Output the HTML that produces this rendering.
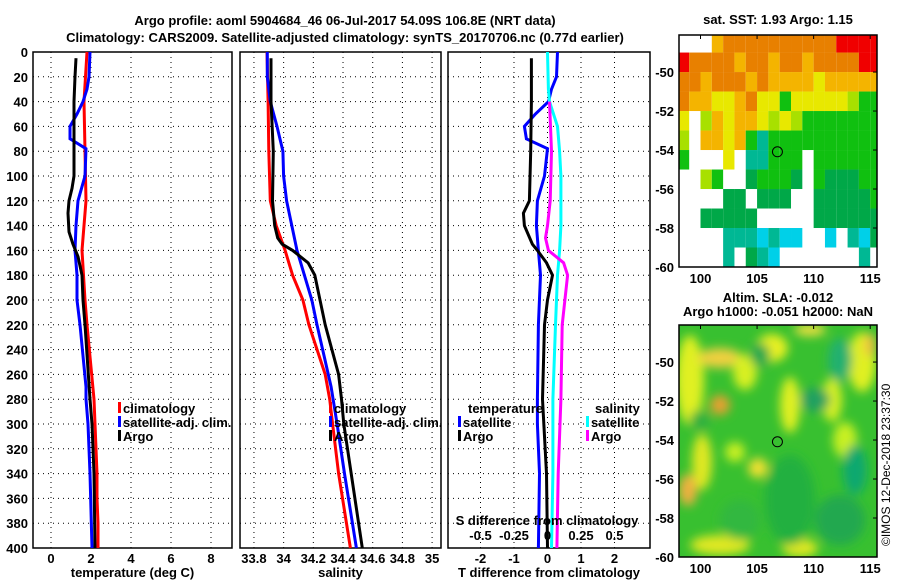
<!DOCTYPE html>
<html><head><meta charset="utf-8"><style>
body{margin:0;background:#fff}
svg{display:block;font-family:"Liberation Sans",sans-serif;font-weight:bold}
text{font-size:13px;fill:#000}
</style></head><body>
<svg id="c" width="900" height="580" viewBox="0 0 900 580">
<text x="345" y="25" text-anchor="middle">Argo profile: aoml 5904684_46 06-Jul-2017 54.09S 106.8E (NRT data)</text>
<text x="345" y="42" text-anchor="middle">Climatology: CARS2009. Satellite-adjusted climatology: synTS_20170706.nc (0.77d earlier)</text>
<g id="g"></g>
</svg>
<script>
// ---- data ----
const depthTicks=[0,20,40,60,80,100,120,140,160,180,200,220,240,260,280,300,320,340,360,380,400];
const tTicks=[0,2,4,6,8];
const sTicks=[33.8,34,34.2,34.4,34.6,34.8,35];
const sTickLabels=["33.8","34","34.2","34.4","34.6","34.8","35"];
const dTicks=[-2,-1,0,1,2];
const dsTicks=[-0.5,-0.25,0,0.25,0.5];
const dsTickLabels=["-0.5","-0.25","0","0.25","0.5"];
const climTdepth=[0,40,80,120,160,200,220,280,300,340,360,380,400];
const climT=[1.8,1.65,1.7,1.75,1.55,1.7,1.8,2.15,2.2,2.3,2.3,2.35,2.35];
const satTdepth=[0,20,30,40,50,60,70,78,100,120,140,160,180,200,220,270,280,300,340,400];
const satT=[1.95,1.9,1.8,1.6,1.3,0.95,0.95,1.75,1.7,1.35,1.25,1.2,1.3,1.3,1.45,1.75,1.75,1.85,1.95,2.05];
const argoTdepth=[5,20,40,100,110,120,130,145,155,165,180,200,220,280,300,340,400];
const argoT=[1.25,1.2,1.15,1.15,1.05,0.9,0.85,0.9,1.1,1.35,1.55,1.6,1.7,1.95,2.05,2.15,2.2];
const climSdepth=[0,40,80,120,140,160,180,200,220,260,280,300,340,400];
const climS=[33.888,33.895,33.9,33.91,33.95,34.01,34.06,34.13,34.17,34.28,34.31,34.33,34.37,34.45];
const satSdepth=[0,20,40,60,80,100,120,140,160,180,200,220,270,300,340,400];
const satS=[33.89,33.89,33.91,33.955,33.995,34.0,34.02,34.055,34.09,34.14,34.19,34.225,34.32,34.36,34.41,34.49];
const argoSdepth=[5,40,80,120,140,150,155,160,170,180,200,220,260,280,300,340,400];
const argoS=[33.915,33.915,33.93,33.925,33.94,33.96,33.99,34.06,34.165,34.21,34.245,34.28,34.37,34.39,34.405,34.455,34.53];
const dTsatDepth=[0,20,30,40,50,60,70,78,100,120,140,160,180,220,280,300,340,400];
const dTsat=[0.3,0.27,0.12,0.03,-0.36,-0.69,-0.63,0,-0.09,-0.3,-0.33,-0.27,-0.21,-0.27,-0.3,-0.3,-0.24,-0.27];
const dTargoDepth=[5,40,80,120,130,140,155,160,170,180,200,220,280,340,400];
const dTargo=[-0.48,-0.48,-0.5,-0.54,-0.72,-0.69,-0.45,-0.3,-0.03,0.15,0,-0.09,-0.15,-0.03,0];
const dSsatDepth=[0,30,40,60,80,100,140,160,180,220,280,340,400];
const dSsat=[0,0.007,0.015,0.075,0.09,0.1,0.1,0.09,0.075,0.06,0.04,0.04,0.03];
const dSargoDepth=[40,80,120,140,150,160,170,180,200,220,280,340,400];
const dSargo=[0.015,0.03,0.02,0,-0.015,0.007,0.12,0.15,0.13,0.11,0.1,0.08,0.07];
const sstRows=["...AOOOOOOOOOORRRR","ROOOOAOOAOOAOOOORR","OOAOOOAOAAAAYAAAAA","OAAYYAOYYGYYYYYLGG","Y.LAYAAYLYLGGGGGGG","L.AAYAGTGGGGGGGGGG","G...Y.TTGGG.GGGGGG","..LG..DGGGD.GDDDGG","....DD.DDD..DDDDDG","..DDDDD.....DDDDDD","....TTTCTCC..C.TCD","....T.DTC.......T."];
// ---- helpers ----
const NS="http://www.w3.org/2000/svg",G=document.getElementById('g');
function mk(t,a,p){const e=document.createElementNS(NS,t);for(const k in a)e.setAttribute(k,a[k]);(p||G).appendChild(e);return e;}
const dy=d=>52+d*1.24;
function panel(name,x0,x1,dom,gx,labels,xlabel,showY){
  const sx=v=>x0+(v-dom[0])/(dom[1]-dom[0])*(x1-x0);
  const g=mk('g',{});
  
  
  depthTicks.forEach(d=>{if(d>0&&d<400){const l=mk('line',{x1:x0,x2:x1,y1:dy(d),y2:dy(d),stroke:'#000','stroke-dasharray':'1,4'},g);}
    if(showY){const t=mk('text',{x:x0-5,y:dy(d)+5,'text-anchor':'end'},g);t.textContent=d;}});
  gx.forEach((v,i)=>{const X=sx(v);const l=mk('line',{x1:X,x2:X,y1:52,y2:548,stroke:'#000','stroke-dasharray':'1,4'},g);
    if(labels){const t=mk('text',{x:X,y:563,'text-anchor':'middle'},g);t.textContent=labels[i];}});
  const r=mk('rect',{x:x0,y:52,width:x1-x0,height:496,fill:'none',stroke:'#000','stroke-width':1.5},g);
  const t=mk('text',{x:(x0+x1)/2,y:577,'text-anchor':'middle'},g);t.textContent=xlabel;
  return {sx,g};
}
function line(p,vals,deps,col,name){
  const pts=vals.map((v,i)=>p.sx(v).toFixed(1)+','+dy(deps[i]).toFixed(1)).join(' ');
  const l=mk('polyline',{points:pts,fill:'none',stroke:col,'stroke-width':3},p.g);
  
  
}
function leg(x,y,col,label,name){
  if(col){const r=mk('rect',{x:x,y:y-11,width:3,height:11,fill:col});}
  const t=mk('text',{x:x+5,y:y});t.textContent=label;
  
  
}
// panel 1
const p1=panel('temperature-panel',33,232,[-0.9,9.05],tTicks,tTicks.map(String),'temperature (deg C)',true);
line(p1,climT,climTdepth,'#f00','climatology-temp-line');
line(p1,satT,satTdepth,'#00f','satellite-temp-line');
line(p1,argoT,argoTdepth,'#000','argo-temp-line');
leg(118,413,'#f00','climatology','legend-climatology');
leg(118,427,'#00f','satellite-adj. clim.','legend-satellite');
leg(118,441,'#000','Argo','legend-argo');
// panel 2
const p2=panel('salinity-panel',240,441,[33.706,35.06],sTicks,sTickLabels,'salinity',false);
line(p2,climS,climSdepth,'#f00','climatology-sal-line');
line(p2,satS,satSdepth,'#00f','satellite-sal-line');
line(p2,argoS,argoSdepth,'#000','argo-sal-line');
leg(329,413,'#f00','climatology','legend-climatology-2');
leg(329,427,'#00f','satellite-adj. clim.','legend-satellite-2');
leg(329,441,'#000','Argo','legend-argo-2');
// panel 3
const p3=panel('difference-panel',448,650,[-2.97,3.06],dTicks,dTicks.map(String),'T difference from climatology',false);
const p3s={sx:v=>p3.sx(v*4),g:p3.g};
line(p3,dTsat,dTsatDepth,'#00f','temp-sat-diff-line');
line(p3,dTargo,dTargoDepth,'#000','temp-argo-diff-line');
line(p3s,dSsat,dSsatDepth,'#0ff','sal-sat-diff-line');
line(p3s,dSargo,dSargoDepth,'#f0f','sal-argo-diff-line');
leg(463,413,null,'temperature','legend-temperature-head');
leg(458,427,'#00f','satellite','legend-t-satellite');
leg(458,441,'#000','Argo','legend-t-argo');
leg(590,413,null,'salinity','legend-salinity-head');
leg(586,427,'#0ff','satellite','legend-s-satellite');
leg(586,441,'#f0f','Argo','legend-s-argo');
{const t=mk('text',{x:547,y:525,'text-anchor':'middle'});t.textContent='S difference from climatology';}
dsTicks.forEach((v,i)=>{const t=mk('text',{x:p3s.sx(v),y:540,'text-anchor':'middle'});t.textContent=dsTickLabels[i];});
// maps
const mx=v=>679+(v-98.1)/(115.6-98.1)*198;
const COL={R:'#f00000',O:'#e88000',A:'#f4b400',Y:'#e8e800',L:'#a8e000',G:'#10c010',D:'#00a848',T:'#00b894',C:'#00d0e8'};
function mapAxes(name,top,bot,latTop,title,titleY){
  const my=v=>top+(latTop-v)/(latTop+60)*(bot-top);
  const r=mk('rect',{x:679,y:top,width:198,height:bot-top,fill:'none',stroke:'#000','stroke-width':1.5});
  [-50,-52,-54,-56,-58,-60].forEach(v=>{const t=mk('text',{x:674,y:my(v)+5,'text-anchor':'end'});t.textContent=v;
    mk('line',{x1:873,x2:877,y1:my(v),y2:my(v),stroke:'#000'});});
  [100,105,110,115].forEach(v=>{const t=mk('text',{x:mx(v),y:bot+16,'text-anchor':'middle'});t.textContent=v;
    mk('line',{x1:mx(v),x2:mx(v),y1:top,y2:top+4,stroke:'#000'});});
  title.forEach((s,i)=>{const t=mk('text',{x:778,y:titleY+i*14,'text-anchor':'middle'});t.textContent=s;});
  const c=mk('circle',{cx:mx(106.8),cy:my(-54.09),r:5,fill:'none',stroke:'#000'});
  return my;
}
// SST map cells
{const top=35,bot=267,lt=-48.1;const my=v=>top+(lt-v)/(lt+60)*(bot-top);
 sstRows.forEach((row,j)=>{[...row].forEach((ch,i)=>{if(COL[ch]){const x=mx(98+i),y=my(-48-j);const w=mx(99+i)-x;const h=my(-49-j)-y;
  const r=mk('rect',{x:Math.max(679,x),y:Math.max(top,y),width:Math.min(877,x+w)-Math.max(679,x),height:Math.min(bot,y+h)-Math.max(top,y),fill:COL[ch]});}});});}
mapAxes('sst-map',35,267,-48.1,['sat. SST: 1.93 Argo: 1.15'],24);
// SLA map
{const defs=mk('defs',{});
 const f=mk('filter',{id:'bl',x:'-50%',y:'-50%',width:'200%',height:'200%'},defs);mk('feGaussianBlur',{stdDeviation:5},f);
 const cp=mk('clipPath',{id:'cp'},defs);mk('rect',{x:679,y:325,width:198,height:232},cp);
 const g=mk('g',{'clip-path':'url(#cp)'});
 mk('rect',{x:679,y:325,width:198,height:232,fill:'#38c030'},g);
 const fg=mk('g',{filter:'url(#bl)'},g);
 [[690,380,'#e0f020',14,45],[720,358,'#f0d040',22,10],[720,405,'#e8a030',10,10],[745,372,'#d8f020',12,18],[772,348,'#e8f020',16,14],[790,405,'#e0f020',10,28],[832,400,'#d8f020',10,22],[862,362,'#e0f020',14,30],[870,345,'#f0c040',6,12],[688,490,'#f0b040',9,16],[702,462,'#e0e820',10,28],[758,468,'#f0e030',10,10],[720,545,'#e0e820',30,10],[800,548,'#e0e820',18,9],[845,440,'#c8f020',12,18],[810,330,'#f0e040',16,6],[735,452,'#c8f020',10,10]].forEach(a=>mk('ellipse',{cx:a[0],cy:a[1],rx:a[3],ry:a[4],fill:a[2]},fg));
 [[760,355,'#20a850',10,12],[815,400,'#20a060',15,12],[840,360,'#20b070',12,22],[855,470,'#10a870',12,25],[790,500,'#20b040',25,45],[840,520,'#20a850',25,25],[700,420,'#30b040',10,10],[740,520,'#30b840',20,20]].forEach(a=>mk('ellipse',{cx:a[0],cy:a[1],rx:a[3],ry:a[4],fill:a[2]},fg));
}
mapAxes('sla-map',325,557,-48.1,['Altim. SLA: -0.012','Argo h1000: -0.051 h2000: NaN'],302);
{const t=mk('text',{x:0,y:0,transform:'translate(890,546) rotate(-90)',style:'font-weight:normal;font-size:12px'});t.textContent='©IMOS 12-Dec-2018 23:37:30';}
</script>
</body></html>
